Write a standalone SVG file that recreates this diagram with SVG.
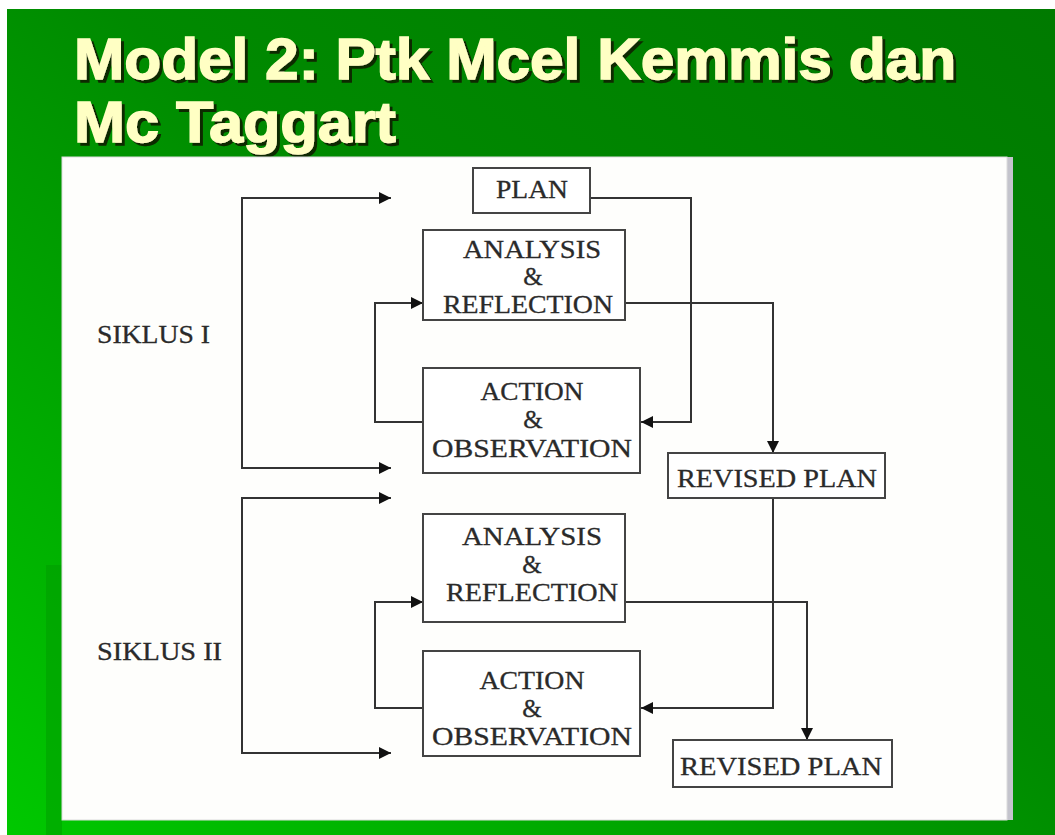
<svg xmlns="http://www.w3.org/2000/svg" width="1055" height="835" viewBox="0 0 1055 835">
<defs>
<linearGradient id="bg" x1="1" y1="0" x2="0" y2="1">
<stop offset="0" stop-color="#007a00"/>
<stop offset="0.45" stop-color="#008a00"/>
<stop offset="1" stop-color="#00c800"/>
</linearGradient>
<filter id="shadow" x="-5%" y="-20%" width="110%" height="150%">
<feDropShadow dx="3" dy="3" stdDeviation="0.6" flood-color="#0d2a00" flood-opacity="1"/>
</filter>
<marker id="ah" viewBox="0 0 10 10" refX="10" refY="5" markerWidth="15" markerHeight="12" markerUnits="userSpaceOnUse" orient="auto">
<path d="M0,0 L10,5 L0,10 z" fill="#111"/>
</marker>
<style>
.title{font-family:"Liberation Sans",Arial,sans-serif;font-weight:bold;font-size:57px;fill:#ffffc4;stroke:#ffffc4;stroke-width:1.4;filter:url(#shadow)}
.box{fill:#ffffff;stroke:#444;stroke-width:2}
.lbl{font-family:"Liberation Serif","Times New Roman",serif;font-size:25px;fill:#2a2a2a;stroke:#2a2a2a;stroke-width:0.3;text-anchor:middle}
.side{font-family:"Liberation Serif","Times New Roman",serif;font-size:25px;fill:#2a2a2a;stroke:#2a2a2a;stroke-width:0.3}
.con{fill:none;stroke:#333;stroke-width:2}
</style>
</defs>
<rect x="0" y="0" width="1055" height="835" fill="#ffffff"/>
<rect x="7" y="9" width="1048" height="826" fill="url(#bg)"/>
<rect x="46" y="565" width="16" height="270" fill="#009a00" opacity="0.5"/>
<g id="title">
<text class="title" x="74" y="79" textLength="882" lengthAdjust="spacingAndGlyphs">Model 2: Ptk Mcel Kemmis dan</text>
<text class="title" x="74" y="142" textLength="322" lengthAdjust="spacingAndGlyphs">Mc Taggart</text>
</g>
<g id="panel">
<rect x="1006" y="157" width="7" height="663" fill="#c4c4cc"/>
<rect x="62" y="157" width="945" height="663" fill="#fefefc" stroke="#dcdcdc" stroke-width="1"/>
</g>
<g id="connectors">
<path class="con" d="M242,198 H391" marker-end="url(#ah)"/>
<path class="con" d="M242,197 V468 H391" marker-end="url(#ah)"/>
<path class="con" d="M590,198 H691 V422 H641" marker-end="url(#ah)"/>
<path class="con" d="M423,422 H375 V303 H423" marker-end="url(#ah)"/>
<path class="con" d="M625,303 H773 V453" marker-end="url(#ah)"/>
<path class="con" d="M773,498 V708 H641" marker-end="url(#ah)"/>
<path class="con" d="M423,708 H375 V602 H423" marker-end="url(#ah)"/>
<path class="con" d="M625,602 H807 V740" marker-end="url(#ah)"/>
<path class="con" d="M242,498 H391" marker-end="url(#ah)"/>
<path class="con" d="M242,497 V753 H391" marker-end="url(#ah)"/>
</g>
<g id="siklus1"><text class="side" x="97" y="343" textLength="113" lengthAdjust="spacingAndGlyphs">SIKLUS I</text></g>
<g id="siklus2"><text class="side" x="97" y="660" textLength="125" lengthAdjust="spacingAndGlyphs">SIKLUS II</text></g>
<g id="plan">
<rect class="box" x="473" y="168" width="117" height="45"/>
<text class="lbl" x="532" y="198" textLength="72" lengthAdjust="spacingAndGlyphs">PLAN</text>
</g>
<g id="analysis1">
<rect class="box" x="423" y="230" width="202" height="90"/>
<text class="lbl" x="532" y="258" textLength="138" lengthAdjust="spacingAndGlyphs">ANALYSIS</text>
<text class="lbl" x="533" y="285">&amp;</text>
<text class="lbl" x="528" y="313" textLength="170" lengthAdjust="spacingAndGlyphs">REFLECTION</text>
</g>
<g id="action1">
<rect class="box" x="423" y="368" width="217" height="105"/>
<text class="lbl" x="532" y="400" textLength="103" lengthAdjust="spacingAndGlyphs">ACTION</text>
<text class="lbl" x="533" y="428">&amp;</text>
<text class="lbl" x="532" y="457" textLength="200" lengthAdjust="spacingAndGlyphs">OBSERVATION</text>
</g>
<g id="revised1">
<rect class="box" x="668" y="453" width="217" height="45"/>
<text class="lbl" x="777" y="487" textLength="200" lengthAdjust="spacingAndGlyphs">REVISED PLAN</text>
</g>
<g id="analysis2">
<rect class="box" x="423" y="514" width="202" height="108"/>
<text class="lbl" x="532" y="545" textLength="140" lengthAdjust="spacingAndGlyphs">ANALYSIS</text>
<text class="lbl" x="532" y="573">&amp;</text>
<text class="lbl" x="532" y="601" textLength="172" lengthAdjust="spacingAndGlyphs">REFLECTION</text>
</g>
<g id="action2">
<rect class="box" x="423" y="651" width="217" height="105"/>
<text class="lbl" x="532" y="689" textLength="105" lengthAdjust="spacingAndGlyphs">ACTION</text>
<text class="lbl" x="532" y="717">&amp;</text>
<text class="lbl" x="532" y="745" textLength="200" lengthAdjust="spacingAndGlyphs">OBSERVATION</text>
</g>
<g id="revised2">
<rect class="box" x="673" y="740" width="219" height="47"/>
<text class="lbl" x="781" y="775" textLength="202" lengthAdjust="spacingAndGlyphs">REVISED PLAN</text>
</g>
</svg>
